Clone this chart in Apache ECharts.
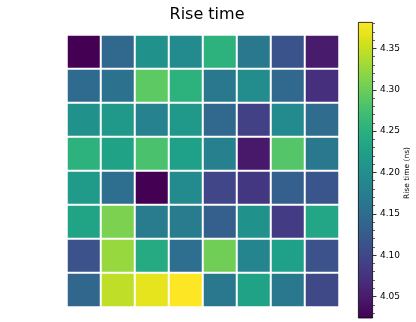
<!DOCTYPE html>
<html>
<head>
<meta charset="utf-8">
<script src="https://cdn.jsdelivr.net/npm/echarts@6/dist/echarts.min.js"></script>
<style>html,body{margin:0;padding:0;background:#fff}#c{width:416px;height:322px}</style>
</head>
<body>
<div id="c"></div>
<script>
// Rows top to bottom, columns left to right (rise time, ns)
const rowLabels = ['1','2','3','4','5','6','7','8'];
const colLabels = ['1','2','3','4','5','6','7','8'];
const row1 = [4.024, 4.143, 4.203, 4.192, 4.253, 4.167, 4.116, 4.050];
const row2 = [4.148, 4.157, 4.292, 4.253, 4.167, 4.196, 4.143, 4.071];
const row3 = [4.203, 4.214, 4.181, 4.214, 4.143, 4.092, 4.192, 4.149];
const row4 = [4.253, 4.228, 4.278, 4.225, 4.178, 4.046, 4.285, 4.167];
const row5 = [4.217, 4.153, 4.024, 4.192, 4.099, 4.081, 4.131, 4.117];
const row6 = [4.231, 4.310, 4.171, 4.171, 4.131, 4.203, 4.085, 4.235];
const row7 = [4.113, 4.325, 4.242, 4.153, 4.303, 4.185, 4.225, 4.113];
const row8 = [4.142, 4.346, 4.368, 4.382, 4.167, 4.228, 4.167, 4.102];
const rows = [row1,row2,row3,row4,row5,row6,row7,row8];
const cbMin = 4.024, cbMax = 4.382;
const cbTicks = [4.05, 4.10, 4.15, 4.20, 4.25, 4.30, 4.35];
const cbMinorTicks = [4.03,4.04,4.06,4.07,4.08,4.09,4.11,4.12,4.13,4.14,4.16,4.17,4.18,4.19,4.21,4.22,4.23,4.24,4.26,4.27,4.28,4.29,4.31,4.32,4.33,4.34,4.36,4.37,4.38];
const viridis = ['#440154','#48186a','#472d7b','#424086','#3b528b','#33638d','#2c728e','#26828e','#21918c','#1fa088','#28ae80','#3fbc73','#5ec962','#84d44b','#addc30','#d8e219','#fde725'];

const heatData = [];
rows.forEach((r, i) => r.forEach((v, j) => heatData.push([j, 7 - i, v])));

const chart = echarts.init(document.getElementById('c'), null, {renderer: 'canvas'});
const font = 'DejaVu Sans';
chart.setOption({
  animation: false,
  backgroundColor: '#fff',
  title: {
    text: 'Rise time', left: 202, top: 2, textAlign: 'center',
    textStyle: {fontFamily: font, fontSize: 16, fontWeight: 'normal', color: '#000'}
  },
  graphic: [{
    type: 'text', x: 407, y: 173, rotation: Math.PI / 2,
    style: {text: 'Rise time (ns)', font: '7.5px "DejaVu Sans"', fill: '#000',
            align: 'center', verticalAlign: 'middle'}
  }],
  grid: [
    {left: 67, top: 35, width: 272, height: 272},
    {left: 358, top: 22, width: 15, height: 296}
  ],
  xAxis: [
    {type: 'category', data: colLabels, gridIndex: 0, show: false},
    {type: 'category', data: ['cb'], gridIndex: 1, show: false}
  ],
  yAxis: [
    {type: 'category', data: rowLabels.slice().reverse(), gridIndex: 0, show: false},
    {type: 'value', gridIndex: 1, position: 'right', min: cbMin, max: cbMax,
     splitLine: {show: false}, axisLine: {show: false},
     axisTick: {show: true, length: 3.5, customValues: cbTicks, lineStyle: {color: '#000', width: 0.8}},
     axisLabel: {customValues: cbTicks, margin: 7, color: '#000', fontFamily: font, fontSize: 9,
       formatter: v => v.toFixed(2)}},
    {type: 'value', gridIndex: 1, position: 'right', min: cbMin, max: cbMax,
     splitLine: {show: false}, axisLine: {show: false},
     axisTick: {show: true, length: 2, customValues: cbMinorTicks, lineStyle: {color: '#000', width: 0.6}},
     axisLabel: {show: false}}
  ],
  visualMap: {
    show: false, min: cbMin, max: cbMax, seriesIndex: 0, dimension: 2,
    inRange: {color: viridis}
  },
  series: [
    {
      type: 'heatmap', xAxisIndex: 0, yAxisIndex: 0, data: heatData,
      itemStyle: {borderColor: '#fff', borderWidth: 2},
      emphasis: {disabled: true}
    },
    {
      type: 'bar', xAxisIndex: 1, yAxisIndex: 1, data: [cbMax], barWidth: '100%',
      itemStyle: {
        borderColor: '#000', borderWidth: 0.8,
        color: new echarts.graphic.LinearGradient(0, 1, 0, 0,
          viridis.map((c, i) => ({offset: i / (viridis.length - 1), color: c})))
      },
      silent: true
    }
  ]
});
</script>
</body>
</html>
